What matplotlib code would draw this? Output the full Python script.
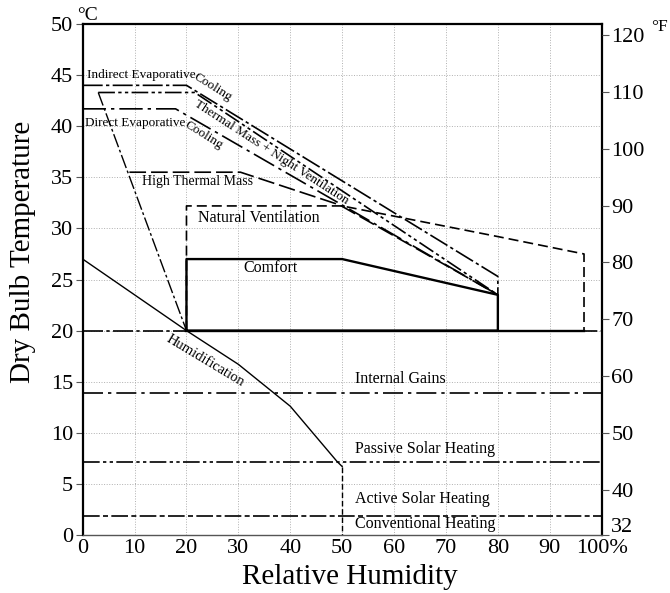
import matplotlib.pyplot as plt
from matplotlib.transforms import offset_copy

plt.rcParams['font.family'] = ['Liberation Serif', 'DejaVu Serif']

# zone outlines, (relative humidity %, dry bulb temperature C)
comfort_rh = [20, 20, 50, 80, 80, 20]
comfort_t = [20, 27, 27, 23.5, 20, 20]

natvent_rh = [20, 20, 50, 80, 96.6, 96.6]
natvent_t = [20, 32.2, 32.2, 29.2, 27.5, 20]

indirect_rh = [0, 20, 80, 80]
indirect_t = [44.0, 44.0, 25.3, 20]

direct_rh = [0, 17.9, 80]
direct_t = [41.7, 41.7, 23.5]

tmnv_rh = [3, 21.6, 80]
tmnv_t = [43.3, 43.3, 23.5]

evap_rh = [3, 20]
evap_t = [43.3, 20]

htm_rh = [9, 30.4, 49.5, 80]
htm_t = [35.5, 35.5, 32.3, 23.5]

humid_rh = [0, 20, 30, 40, 49, 50]
humid_t = [27, 20, 16.7, 12.6, 7.2, 6.7]
humid_drop_rh = [50, 50]
humid_drop_t = [6.7, 0]

internal_gains_t = 13.9
passive_solar_t = 7.1
active_solar_t = 1.9

x_ticks = [0, 10, 20, 30, 40, 50, 60, 70, 80, 90, 100]
x_labels = ['0', '10', '20', '30', '40', '50', '60', '70', '80', '90', '100%']
c_ticks = [0, 5, 10, 15, 20, 25, 30, 35, 40, 45, 50]
f_ticks = [32, 40, 50, 60, 70, 80, 90, 100, 110, 120]

fig = plt.figure(figsize=(6.7, 5.93), dpi=100)
ax = fig.add_axes([0.1234, 0.0978, 0.7746, 0.8617])

k = 'black'
ax.plot(comfort_rh, comfort_t, color=k, lw=1.7)
ax.plot(natvent_rh, natvent_t, color=k, lw=1.2, ls=(0, (6, 3)))
ax.plot(indirect_rh, indirect_t, color=k, lw=1.2, ls=(0, (12, 2, 2, 2)))
ax.plot(direct_rh, direct_t, color=k, lw=1.2, ls=(0, (14, 3, 2, 3)))
ax.plot(tmnv_rh, tmnv_t, color=k, lw=1.2, ls=(0, (10, 2, 2, 2, 2, 2)))
ax.plot(evap_rh, evap_t, color=k, lw=1.0, ls=(0, (10, 2, 2, 2)))
ax.plot(htm_rh, htm_t, color=k, lw=1.2, ls=(0, (10, 3)))
ax.plot(humid_rh, humid_t, color=k, lw=1.0)
ax.plot(humid_drop_rh, humid_drop_t, color=k, lw=1.0, ls=(0, (4, 2)))

# 20 C base line
ax.plot([0, 20], [20, 20], color=k, lw=1.2, ls=(0, (12, 2, 2, 2)))
ax.plot([20, 96.6], [20, 20], color=k, lw=1.7)
ax.plot([96.6, 100], [20, 20], color=k, lw=1.2, ls=(0, (8, 2)))

ax.axhline(internal_gains_t, color=k, lw=1.2, ls=(0, (12, 3, 2, 3)))
ax.axhline(passive_solar_t, color=k, lw=1.2, ls=(0, (10, 2, 2, 2, 2, 2)))
ax.axhline(active_solar_t, color=k, lw=1.2, ls=(0, (10, 2, 3, 2)))

fs = 9.5
ax.text(0.8, 45.0, 'Indirect Evaporative', fontsize=fs, va='center')
ax.text(25.1, 43.8, 'Cooling', fontsize=fs, rotation=-32, ha='center', va='center', rotation_mode='anchor')
ax.text(0.4, 40.3, 'Direct Evaporative', fontsize=fs, va='center')
ax.text(23.3, 39.1, 'Cooling', fontsize=fs, rotation=-32, ha='center', va='center', rotation_mode='anchor')
ax.text(36.3, 37.4, 'Thermal Mass + Night Ventilation', fontsize=fs, rotation=-33,
        ha='center', va='center', rotation_mode='anchor')
ax.text(11.5, 34.6, 'High Thermal Mass', fontsize=10, va='center')
ax.text(22.3, 31.0, 'Natural Ventilation', fontsize=11.5, va='center')
ax.text(36.2, 26.1, 'Comfort', fontsize=11.5, ha='center', va='center')
ax.text(23.6, 17.0, 'Humidification', fontsize=10.5, rotation=-31, ha='center', va='center',
        rotation_mode='anchor')
ax.text(52.5, 15.3, 'Internal Gains', fontsize=11.5, va='center')
ax.text(52.4, 8.4, 'Passive Solar Heating', fontsize=11.5, va='center')
ax.text(52.4, 3.5, 'Active Solar Heating', fontsize=11.5, va='center')
ax.text(52.4, 1.05, 'Conventional Heating', fontsize=11.5, va='center')

ax.set_xlim(0, 100)
ax.set_ylim(0, 50)
ax.set_xticks(x_ticks)
ax.set_xticklabels(x_labels)
ax.set_yticks(c_ticks)
ax.tick_params(axis='both', labelsize=16, direction='out', length=5, width=0.8,
               color='#555555', pad=2)
ax.tick_params(axis='x', length=0, pad=3)
ax.grid(True, color='#b0b0b0', ls=':', lw=0.7)
ax.set_axisbelow(True)
for side in ['left', 'top', 'right']:
    ax.spines[side].set_linewidth(1.6)
ax.spines['bottom'].set_linewidth(1.0)
ax.spines['bottom'].set_color('#555555')

ax.set_xlabel('Relative Humidity', fontsize=21, va='center')
ax.xaxis.set_label_coords(0.515, -0.083)
ax.set_ylabel('Dry Bulb Temperature', fontsize=21, va='center')
ax.yaxis.set_label_coords(-0.115, 0.554)

ax2 = ax.twinx()
ax2.set_ylim(32, 122)
ax2.set_yticks(f_ticks)
ax2.tick_params(axis='y', labelsize=16, direction='out', length=5, width=0.8,
                color='#555555', pad=2)
for side in ['left', 'top', 'right', 'bottom']:
    ax2.spines[side].set_visible(False)
# lift the 32 label so it sits on the base line
lbl32 = ax2.get_yticklabels()[0]
lbl32.set_transform(offset_copy(lbl32.get_transform(), fig=fig, x=0, y=7, units='points'))

fig.text(77 / 670, 1 - 15 / 593, '°C', fontsize=14, va='center', ha='left')
fig.text(651 / 670, 1 - 27 / 593, '°F', fontsize=12.5, va='center', ha='left')

fig.savefig('out.png', dpi=100)
